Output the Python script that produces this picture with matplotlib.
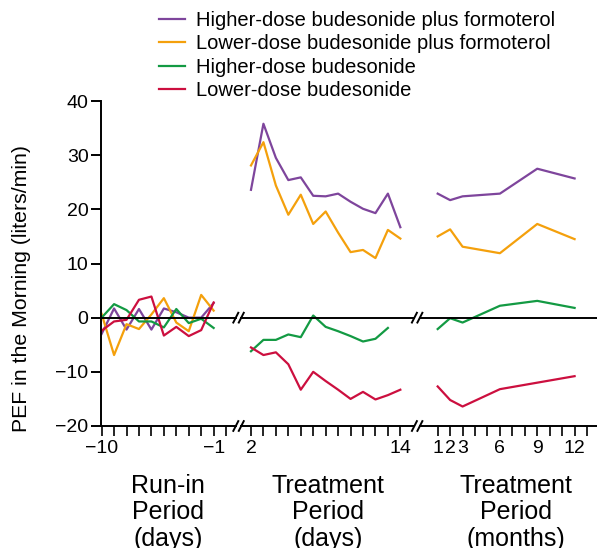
import matplotlib
matplotlib.use("Agg")
import matplotlib.pyplot as plt
import numpy as np

plt.rcParams["font.family"] = ["Liberation Sans", "DejaVu Sans"]

# Data (PEF change, liters/min)
run_days = [-10, -9, -8, -7, -6, -5, -4, -3, -2, -1]
treat_days = [2, 3, 4, 5, 6, 7, 8, 9, 10, 11, 12, 13, 14]
months = [1, 2, 3, 6, 9, 12]

hi_combo_run = [-3.0, 1.7, -2.2, 1.6, -2.2, 1.7, 1.0, 0.0, 0.0, 2.7]
lo_combo_run = [0.7, -6.9, -1.2, -2.1, 0.6, 3.6, -0.9, -2.5, 4.2, 1.3]
hi_bud_run = [0.0, 2.5, 1.4, -0.7, -0.7, -1.8, 1.6, -1.0, -0.2, -1.9]
lo_bud_run = [-2.4, -0.7, -0.4, 3.3, 3.9, -3.3, -1.7, -3.4, -2.3, 2.8]

hi_combo_treat = [23.6, 35.8, 29.5, 25.4, 25.9, 22.5, 22.4, 22.9, 21.4, 20.1, 19.3, 22.9, 16.7]
lo_combo_treat = [28.1, 32.4, 24.4, 19.0, 22.7, 17.3, 19.6, 15.7, 12.1, 12.5, 11.0, 16.2, 14.6]
hi_bud_treat = [-6.2, -4.1, -4.1, -3.1, -3.6, 0.4, -1.7, -2.5, -3.4, -4.4, -3.9, -1.9]
lo_bud_treat = [-5.5, -6.9, -6.4, -8.6, -13.3, -10.0, -11.7, -13.3, -15.0, -13.7, -15.1, -14.3, -13.3]

hi_combo_mon = [22.9, 21.7, 22.4, 22.9, 27.5, 25.7]
lo_combo_mon = [15.0, 16.3, 13.1, 11.9, 17.3, 14.5]
hi_bud_mon = [-2.1, -0.1, -0.9, 2.2, 3.1, 1.8]
lo_bud_mon = [-12.7, -15.2, -16.4, -13.2, -12.0, -10.8]

labels = ["Higher-dose budesonide plus formoterol",
          "Lower-dose budesonide plus formoterol",
          "Higher-dose budesonide",
          "Lower-dose budesonide"]
colors = ["#7E459C", "#F4A00C", "#139A43", "#CC0F3F"]

# positions on one continuous axis
def p_run(d): return np.array(d) + 10
def p_treat(d): return np.array(d) + 10
def p_mon(m): return np.array(m) + 26

fig = plt.figure(figsize=(5.97, 5.48), dpi=100)
ax = fig.add_axes([101 / 597, 1 - 426 / 548, 1 - 101 / 597, (426 - 101) / 548])

series = [
    (hi_combo_run, hi_combo_treat, hi_combo_mon),
    (lo_combo_run, lo_combo_treat, lo_combo_mon),
    (hi_bud_run, hi_bud_treat, hi_bud_mon),
    (lo_bud_run, lo_bud_treat, lo_bud_mon),
]
handles = []
for (r, t, m), c, lab in zip(series, colors, labels):
    h, = ax.plot(p_run(run_days), r, color=c, lw=1.6, label=lab)
    ax.plot(p_treat(treat_days[:len(t)]), t, color=c, lw=1.6)
    ax.plot(p_mon(months), m, color=c, lw=1.6)
    handles.append(h)

xmin, xmax = -0.05, 39.8
b1, b2 = 11.0, 25.35
ax.set_xlim(xmin, xmax)
ax.set_ylim(-20, 40)

# broken zero line and bottom axis
for yv in [0, -20]:
    for x0, x1 in [(xmin, b1 - 0.22), (b1 + 0.22, b2 - 0.22), (b2 + 0.22, xmax)]:
        ax.plot([x0, x1], [yv, yv], color="black", lw=1.4, clip_on=False, zorder=3)
    for bx in [b1, b2]:
        for dx in [-0.22, 0.22]:
            ax.plot([bx + dx - 0.2, bx + dx + 0.2], [yv - 0.9, yv + 0.9],
                    color="black", lw=1.4, clip_on=False, zorder=3)

ax.spines[["top", "right", "bottom"]].set_visible(False)
ax.spines["left"].set_linewidth(1.4)

ax.set_yticks([-20, -10, 0, 10, 20, 30, 40])
ax.tick_params(axis="y", direction="out", length=7, width=1.4, labelsize=14, pad=2)

major_pos = list(p_run([-10, -1])) + list(p_treat([2, 14])) + list(p_mon([1, 2, 3, 6, 9, 12]))
major_lab = ["\u221210", "\u22121", "2", "14", "1", "2", "3", "6", "9", "12"]
minor_pos = [x for x in list(range(0, 11)) + list(range(12, 25)) + list(range(27, 40))
             if x not in major_pos]
ax.set_xticks(major_pos)
ax.set_xticklabels(major_lab)
ax.set_xticks(minor_pos, minor=True)
ax.tick_params(axis="x", which="both", direction="out", length=7, width=1.2,
               labelsize=14, pad=3)

fig.text(22 / 597, 1 - 288 / 548, "PEF in the Morning (liters/min)", rotation=90,
         ha="center", va="center", fontsize=15.3)

group_y = 1 - 474 / 548
fig.text(168 / 597, group_y, "Run-in\nPeriod\n(days)", ha="center", va="top",
         fontsize=18, linespacing=1.12)
fig.text(328 / 597, group_y, "Treatment\nPeriod\n(days)", ha="center", va="top",
         fontsize=18, linespacing=1.12)
fig.text(516 / 597, group_y, "Treatment\nPeriod\n(months)", ha="center", va="top",
         fontsize=18, linespacing=1.12)

fig.legend(handles=handles, loc="upper left", bbox_to_anchor=(159 / 597, 1 - 11 / 548),
           frameon=False, fontsize=14.5, handlelength=1.3, handletextpad=0.55,
           labelspacing=0.22, borderpad=0, borderaxespad=0)

fig.savefig("out.png", dpi=100)
